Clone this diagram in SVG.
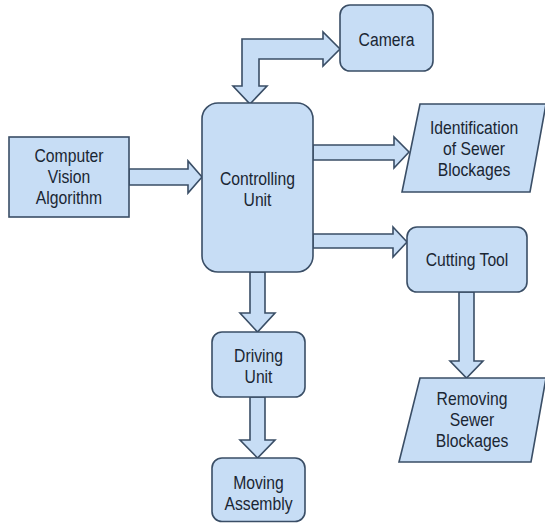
<svg xmlns="http://www.w3.org/2000/svg" width="545" height="523" viewBox="0 0 545 523">
<style>
.box{fill:#c7ddf5;stroke:#3a4e66;stroke-width:1.6}
.arr{fill:#c7ddf5;stroke:#3a4e66;stroke-width:1.6;stroke-linejoin:miter}
text{font-family:"Liberation Sans",Arial,sans-serif;font-size:18.5px;fill:#1a2633;text-anchor:middle}
</style>
<rect width="545" height="523" fill="#ffffff"/>
<g id="connectors">
<polygon class="arr" points="242,86 242,39 323,39 323,32 340,49 323,66 323,59 259,59 259,86 267,86 250,104 233,86"/>
<polygon class="arr" points="129,169 188,169 188,161 202,177 188,193 188,185 129,185"/>
<polygon class="arr" points="313,145 394,145 394,137 409,152 394,168 394,160 313,160"/>
<polygon class="arr" points="313,234 393,234 393,227 407,242 393,257 393,248 313,248"/>
<polygon class="arr" points="250,272 265,272 265,313 275,313 257.5,332 240,313 250,313"/>
<polygon class="arr" points="250,397 265,397 265,440 275,440 257.5,458 240,440 250,440"/>
<polygon class="arr" points="459,292 474,292 474,361 483,361 466.5,378 450,361 459,361"/>
</g>
<g id="camera">
<rect class="box" x="340" y="5" width="93" height="66" rx="10"/>
<text transform="translate(386.5,46) scale(0.85,1)">Camera</text>
</g>
<g id="controlling-unit">
<rect class="box" x="202" y="103" width="111" height="169" rx="16"/>
<text transform="translate(257.5,185) scale(0.85,1)"><tspan x="0">Controlling</tspan><tspan x="0" dy="21">Unit</tspan></text>
</g>
<g id="computer-vision">
<rect class="box" x="9" y="137" width="120" height="80"/>
<text transform="translate(69,162) scale(0.85,1)"><tspan x="0">Computer</tspan><tspan x="0" dy="21">Vision</tspan><tspan x="0" dy="21">Algorithm</tspan></text>
</g>
<g id="identification">
<polygon class="box" points="420,104 546,104 530,192 402,192"/>
<text transform="translate(474,134) scale(0.85,1)"><tspan x="0">Identification</tspan><tspan x="0" dy="21">of Sewer</tspan><tspan x="0" dy="21">Blockages</tspan></text>
</g>
<g id="cutting-tool">
<rect class="box" x="407" y="227" width="120" height="65" rx="10"/>
<text transform="translate(467,266) scale(0.85,1)">Cutting Tool</text>
</g>
<g id="removing">
<polygon class="box" points="420,378 546,378 531,462 399,462"/>
<text transform="translate(472,405) scale(0.85,1)"><tspan x="0">Removing</tspan><tspan x="0" dy="21">Sewer</tspan><tspan x="0" dy="21">Blockages</tspan></text>
</g>
<g id="driving-unit">
<rect class="box" x="212" y="332" width="93" height="65" rx="10"/>
<text transform="translate(258.5,362) scale(0.85,1)"><tspan x="0">Driving</tspan><tspan x="0" dy="21">Unit</tspan></text>
</g>
<g id="moving-assembly">
<rect class="box" x="212" y="458" width="93" height="63.5" rx="10"/>
<text transform="translate(258.5,489) scale(0.85,1)"><tspan x="0">Moving</tspan><tspan x="0" dy="21">Assembly</tspan></text>
</g>
</svg>
